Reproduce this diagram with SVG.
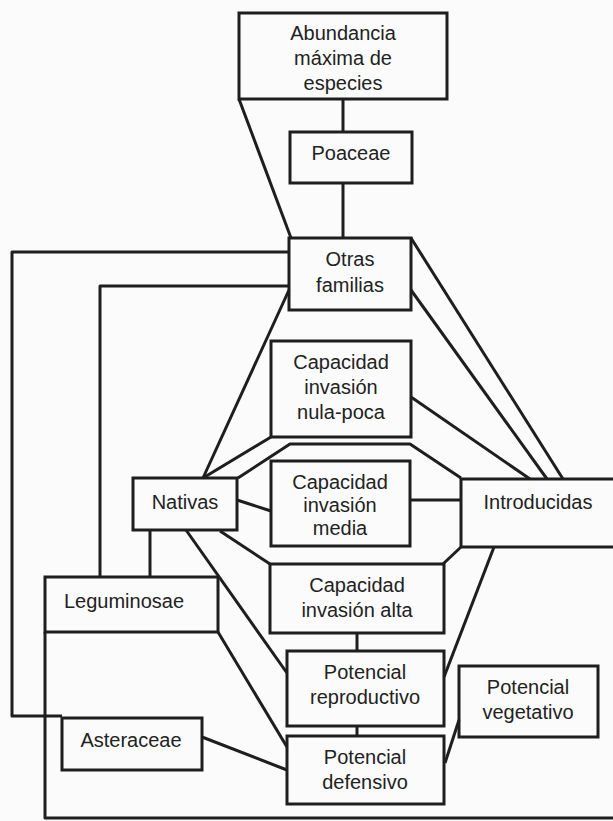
<svg xmlns="http://www.w3.org/2000/svg" width="613" height="821" viewBox="0 0 613 821">
<style>
.b{fill:none;stroke:#1e1e1e;stroke-width:3}
.c{fill:none;stroke:#1e1e1e;stroke-width:3;stroke-linejoin:round}
text{font-family:"Liberation Sans",Arial,sans-serif;font-size:20px;fill:#222;text-anchor:middle}
</style>
<rect width="613" height="821" fill="#fbfbfb"/>
<g id="connectors" class="c">
<line x1="343" y1="99" x2="343" y2="132"/>
<line x1="343" y1="183" x2="343" y2="238"/>
<line x1="239" y1="99" x2="291" y2="238"/>
<polyline points="289,252 12,252 12,716 62,716"/>
<polyline points="289,286 100,286 100,577"/>
<line x1="289" y1="290" x2="203" y2="478"/>
<line x1="411" y1="238" x2="563" y2="479"/>
<line x1="411" y1="290" x2="547" y2="479"/>
<line x1="411" y1="397" x2="530" y2="479"/>
<line x1="271" y1="437" x2="203" y2="478"/>
<polyline points="238,478 290,444 410,444 461,478"/>
<polyline points="220,531 270,564"/>
<polyline points="443,564 461,547"/>
<line x1="237" y1="500" x2="271" y2="511"/>
<line x1="410" y1="500" x2="461" y2="500"/>
<line x1="150" y1="530" x2="150" y2="577"/>
<line x1="186" y1="530" x2="287" y2="673"/>
<line x1="494" y1="547" x2="444" y2="677"/>
<line x1="218" y1="632" x2="287" y2="747"/>
<polyline points="45,632 45,818 613,818"/>
<line x1="357" y1="633" x2="357" y2="651"/>
<line x1="357" y1="726" x2="357" y2="736"/>
<line x1="202" y1="737" x2="287" y2="770"/>
<line x1="459" y1="720" x2="445" y2="763"/>
</g>
<g id="abundancia"><rect class="b" x="239" y="13" width="208" height="86"/><text x="343" y="40">Abundancia</text><text x="343" y="65">máxima de</text><text x="343" y="90">especies</text></g>
<g id="poaceae"><rect class="b" x="290" y="132" width="122" height="51"/><text x="351" y="160">Poaceae</text></g>
<g id="otras"><rect class="b" x="289" y="238" width="122" height="72"/><text x="350" y="266">Otras</text><text x="350" y="292">familias</text></g>
<g id="nula"><rect class="b" x="271" y="341" width="140" height="96"/><text x="341" y="369">Capacidad</text><text x="341" y="394">invasión</text><text x="341" y="419">nula-poca</text></g>
<g id="nativas"><rect class="b" x="133" y="478" width="104" height="52"/><text x="185" y="509">Nativas</text></g>
<g id="media"><rect class="b" x="271" y="461" width="139" height="85"/><text x="340" y="489">Capacidad</text><text x="340" y="512">invasión</text><text x="340" y="535">media</text></g>
<g id="introducidas"><rect class="b" x="461" y="479" width="170" height="68"/><text x="538" y="509">Introducidas</text></g>
<g id="alta"><rect class="b" x="270" y="564" width="174" height="69"/><text x="357" y="592">Capacidad</text><text x="357" y="617">invasión alta</text></g>
<g id="leguminosae"><rect class="b" x="45" y="577" width="173" height="55"/><text x="124" y="608">Leguminosae</text></g>
<g id="reproductivo"><rect class="b" x="287" y="651" width="157" height="75"/><text x="365" y="679">Potencial</text><text x="365" y="704">reproductivo</text></g>
<g id="vegetativo"><rect class="b" x="459" y="666" width="139" height="71"/><text x="528" y="694">Potencial</text><text x="528" y="719">vegetativo</text></g>
<g id="asteraceae"><rect class="b" x="62" y="718" width="140" height="52"/><text x="131" y="747">Asteraceae</text></g>
<g id="defensivo"><rect class="b" x="287" y="736" width="157" height="68"/><text x="365" y="764">Potencial</text><text x="365" y="789">defensivo</text></g>
</svg>
